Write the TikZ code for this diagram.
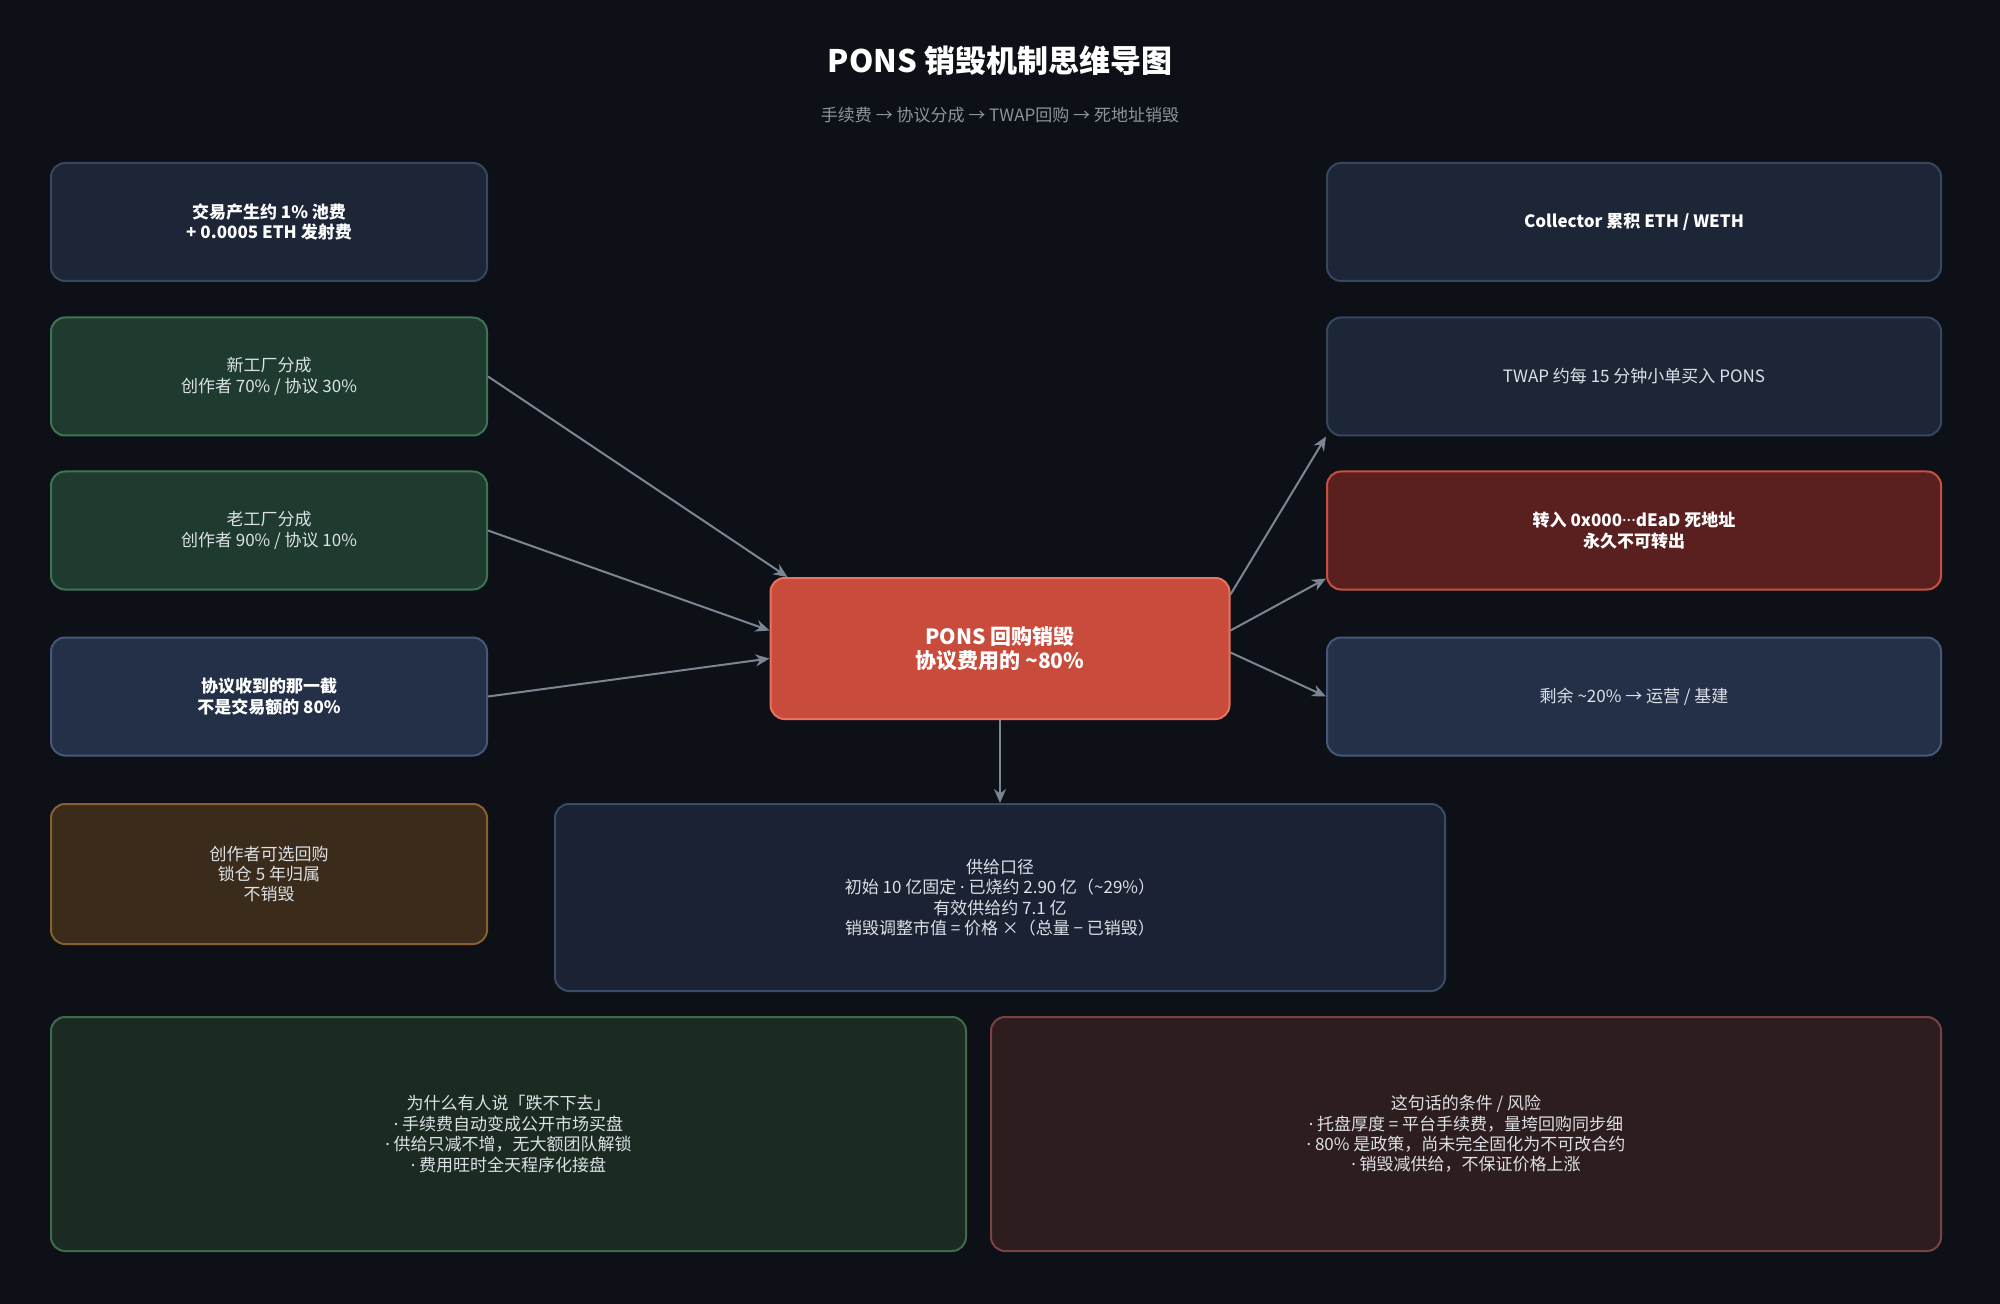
\documentclass[tikz,border=0pt]{standalone}
\usepackage{fontspec}
\setmainfont{Noto Sans CJK SC}
\newfontfamily\dotfont{Noto Sans}
\newcommand\pt{{\dotfont ·}}
\usetikzlibrary{arrows.meta}
\definecolor{bg}{HTML}{0D1117}
\definecolor{txt}{HTML}{DCE1E6}
\definecolor{sub}{HTML}{8B949E}
\definecolor{arrow}{HTML}{7B8695}
\definecolor{slatefill}{HTML}{1C2636}
\definecolor{slateline}{HTML}{37475E}
\definecolor{navyfill}{HTML}{233047}
\definecolor{navyline}{HTML}{45587A}
\definecolor{greenfill}{HTML}{1F3B2F}
\definecolor{greenline}{HTML}{3E7454}
\definecolor{amberfill}{HTML}{3B2B1A}
\definecolor{amberline}{HTML}{8A5F30}
\definecolor{deadfill}{HTML}{5A1F1F}
\definecolor{deadline}{HTML}{C9503F}
\definecolor{burnfill}{HTML}{C94B3C}
\definecolor{burnline}{HTML}{E8735F}
\definecolor{supplyfill}{HTML}{1A2233}
\definecolor{supplyline}{HTML}{3A4B65}
\definecolor{prosfill}{HTML}{1B2B22}
\definecolor{prosline}{HTML}{3D6B4C}
\definecolor{riskfill}{HTML}{2E1D1E}
\definecolor{riskline}{HTML}{7A4343}

\begin{document}
\begin{tikzpicture}[x=0.5pt,y=-0.5pt,
    box/.style = {draw, rounded corners=7pt, line width=1pt, align=center,
      inner sep=0pt, text=txt, font=\fontsize{8.5}{10.2}\selectfont},
    strong/.style = {text=white, font=\bfseries\fontsize{8.5}{10.2}\selectfont},
    lbox/.style = {minimum width=218pt, minimum height=59pt},
    rbox/.style = {minimum width=307pt, minimum height=59pt},
    slate/.style = {box, fill=slatefill, draw=slateline},
    navy/.style = {box, fill=navyfill, draw=navyline},
    green/.style = {box, fill=greenfill, draw=greenline},
    amber/.style = {box, fill=amberfill, draw=amberline},
    link/.style = {draw=arrow, line width=1pt, -{Stealth[length=7pt,width=6pt]}}]
\fill[bg] (0,0) rectangle (2000,1304);
\node[text=white, font=\bfseries\fontsize{15.5}{18}\selectfont] (title) at (1000,61) {PONS 销毁机制思维导图};
\node[text=sub, font=\fontsize{8.5}{10}\selectfont] (subtitle) at (1000,115) {手续费 → 协议分成 → TWAP回购 → 死地址销毁};

\node[slate, lbox, strong] (fee) at (269,222) {交易产生约 1\% 池费\\+ 0.0005 ETH 发射费};
\node[green, lbox] (newfac) at (269,376.5) {新工厂分成\\创作者 70\% / 协议 30\%};
\node[green, lbox] (oldfac) at (269,530.5) {老工厂分成\\创作者 90\% / 协议 10\%};
\node[navy, lbox, strong] (share) at (269,696.5) {协议收到的那一截\\不是交易额的 80\%};
\node[amber, minimum width=218pt, minimum height=70pt] (creator) at (269,874) {创作者可选回购\\锁仓 5 年归属\\不销毁};

\node[slate, rbox, strong] (collector) at (1634,222) {Collector 累积 ETH / WETH};
\node[slate, rbox] (twap) at (1634,376.5) {TWAP 约每 15 分钟小单买入 PONS};
\node[box, rbox, strong, fill=deadfill, draw=deadline] (dead) at (1634,530.5) {转入 0x000{\dotfont\bfseries ···}dEaD 死地址\\永久不可转出};
\node[navy, rbox] (rest) at (1634,696.5) {剩余 \textasciitilde20\% → 运营 / 基建};

\node[box, fill=burnfill, draw=burnline, text=white, minimum width=229.5pt, minimum height=70.5pt,
  font=\bfseries\fontsize{10.5}{12}\selectfont] (burn) at (1000,648.5) {PONS 回购销毁\\协议费用的 \textasciitilde80\%};
\node[box, fill=supplyfill, draw=supplyline, minimum width=445pt, minimum height=93.5pt] (supply) at (1000,897.5)
  {供给口径\\初始 10 亿固定 \pt{} 已烧约 2.90 亿（\textasciitilde29\%）\\有效供给约 7.1 亿\\销毁调整市值 = 价格 ×（总量 − 已销毁）};

\node[box, fill=prosfill, draw=prosline, minimum width=457.5pt, minimum height=117pt] (pros) at (508.5,1134)
  {为什么有人说「跌不下去」\\\pt{} 手续费自动变成公开市场买盘\\\pt{} 供给只减不增，无大额团队解锁\\\pt{} 费用旺时全天程序化接盘};
\node[box, fill=riskfill, draw=riskline, minimum width=475pt, minimum height=117pt] (risk) at (1466,1134)
  {这句话的条件 / 风险\\\pt{} 托盘厚度 = 平台手续费，量垮回购同步细\\\pt{} 80\% 是政策，尚未完全固化为不可改合约\\\pt{} 销毁减供给，不保证价格上涨};

\draw[link] (newfac.east) -- ([xshift=9pt]burn.north west);
\draw[link] (oldfac.east) -- ([yshift=9pt]burn.west);
\draw[link] (share.east) -- ([yshift=-5pt]burn.west);
\draw[link] ([yshift=27pt]burn.east) -- (twap.south west);
\draw[link] ([yshift=9pt]burn.east) -- ([yshift=6pt]dead.south west);
\draw[link] ([yshift=-2pt]burn.east) -- (rest.west);
\draw[link] (burn.south) -- (supply.north);
\end{tikzpicture}
\end{document}
